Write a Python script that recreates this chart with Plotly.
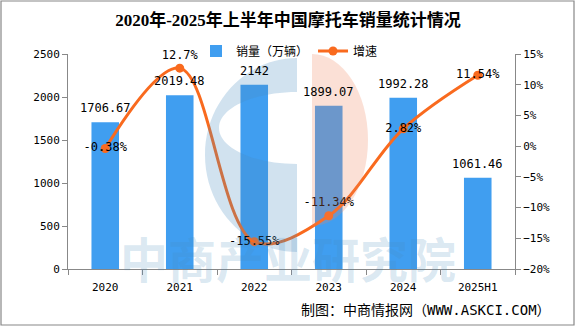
import plotly.graph_objects as go

# ---- data ----
years = ["2020", "2021", "2022", "2023", "2024", "2025H1"]
sales = [1706.67, 2019.48, 2142, 1899.07, 1992.28, 1061.46]
growth = [-0.38, 12.7, -15.55, -11.34, 2.82, 11.54]
growth_text_pos = ["middle center", "top center", "middle center", "top center", "middle center", "middle center"]

title_text = "2020年-2025年上半年中国摩托车销量统计情况"
bar_name = "销量（万辆）"
line_name = "增速"
source_text = "制图：中商情报网（WWW.ASKCI.COM）"
watermark_text = "中商产业研究院"

# ---- layout geometry (pixels) ----
W, H = 576, 327
L, R, T, B = 68, 515, 54, 269
PW, PH = R - L, B - T


def px(x):
    return (x - L) / PW


def py(y):
    return (B - y) / PH


def half_ellipse(cx, cy, rx, ry, s, reverse=False):
    k = 0.5523
    pts = [
        (cx, cy - ry),
        (cx + s * k * rx, cy - ry), (cx + s * rx, cy - k * ry), (cx + s * rx, cy),
        (cx + s * rx, cy + k * ry), (cx + s * k * rx, cy + ry), (cx, cy + ry),
    ]
    if reverse:
        pts = pts[::-1]
    p = lambda q: f"{px(q[0]):.5f},{py(q[1]):.5f}"
    return (f"M {p(pts[0])} C {p(pts[1])} {p(pts[2])} {p(pts[3])} "
            f"C {p(pts[4])} {p(pts[5])} {p(pts[6])} Z")


MONO = "DejaVu Sans Mono, Noto Sans CJK SC, sans-serif"
CJK = "Noto Sans CJK SC, sans-serif"

fig = go.Figure()
fig.add_trace(go.Bar(
    x=years, y=sales, name=bar_name,
    marker=dict(color="#409EF0", line=dict(width=0)),
    width=0.37,
))
fig.add_trace(go.Scatter(
    x=years, y=growth, name=line_name, yaxis="y2",
    mode="lines+markers+text",
    line=dict(color="#F96A1E", width=3, shape="spline", smoothing=1.0),
    marker=dict(color="#F96A1E", size=9),
    text=[f"{v:g}%" for v in growth], textposition=growth_text_pos,
    textfont=dict(family=MONO, size=12, color="#000"),
    cliponaxis=False,
))

# bar value labels (category index on the x axis)
for i, v in enumerate(sales):
    fig.add_annotation(x=i, y=v, xref="x", yref="y", text=f"{v:g}", showarrow=False,
                       yanchor="middle", yshift=14,
                       font=dict(family=MONO, size=12, color="#000"))

axis_common = dict(showline=True, linecolor="#888", linewidth=1, ticks="outside",
                   tickcolor="#888", ticklen=5, showgrid=False, zeroline=False,
                   tickfont=dict(family=MONO, size=11, color="#000"))

fig.update_layout(
    width=W, height=H,
    margin=dict(l=L, r=W - R, t=T, b=H - B),
    paper_bgcolor="white", plot_bgcolor="white",
    title=dict(text=title_text, x=0.5, xref="container", xanchor="center",
               y=1 - 20 / H, yanchor="middle",
               font=dict(family="Liberation Serif, Noto Sans CJK SC, serif", size=17, color="#000", weight="bold")),
    xaxis=dict(type="category", range=[-0.5, 5.5], tickson="boundaries", ticklabelstandoff=8, **axis_common),
    yaxis=dict(range=[0, 2500], dtick=500, **axis_common),
    yaxis2=dict(range=[-20, 15], dtick=5, ticksuffix="%", overlaying="y", side="right", **axis_common),
    legend=dict(orientation="h", x=px(196), xanchor="left", y=py(51), yanchor="middle",
                font=dict(family=CJK, size=12, color="#000"), bgcolor="rgba(0,0,0,0)",
                itemwidth=30, tracegroupgap=0),
    showlegend=True,
)

# watermark logo
blue_path = half_ellipse(297, 155, 92, 97, -1) + " " + half_ellipse(297, 128, 78, 36, -1, reverse=True)
fig.add_shape(type="path", path=blue_path, xref="paper", yref="paper",
              fillcolor="rgba(70,140,190,0.25)", line=dict(width=0), layer="above")
fig.add_shape(type="path", path=half_ellipse(312, 140, 56, 86, 1), xref="paper", yref="paper",
              fillcolor="rgba(240,130,90,0.25)", line=dict(width=0), layer="above")

fig.add_annotation(text=watermark_text, xref="paper", yref="paper", x=px(288), y=py(257),
                   showarrow=False, xanchor="center", yanchor="middle",
                   font=dict(family=CJK, size=48, color="rgba(70,140,190,0.2)", weight="bold"))

# source
fig.add_annotation(text=source_text, xref="paper", yref="paper", x=px(553), y=py(310),
                   showarrow=False, xanchor="right", yanchor="middle",
                   font=dict(family=MONO, size=14, color="#000"))

# border
fig.add_shape(type="rect", xref="paper", yref="paper",
              x0=px(1), x1=px(574), y0=py(325), y1=py(1),
              line=dict(color="#888", width=1.2), fillcolor="rgba(0,0,0,0)", layer="below")

fig.write_html("out.html")
